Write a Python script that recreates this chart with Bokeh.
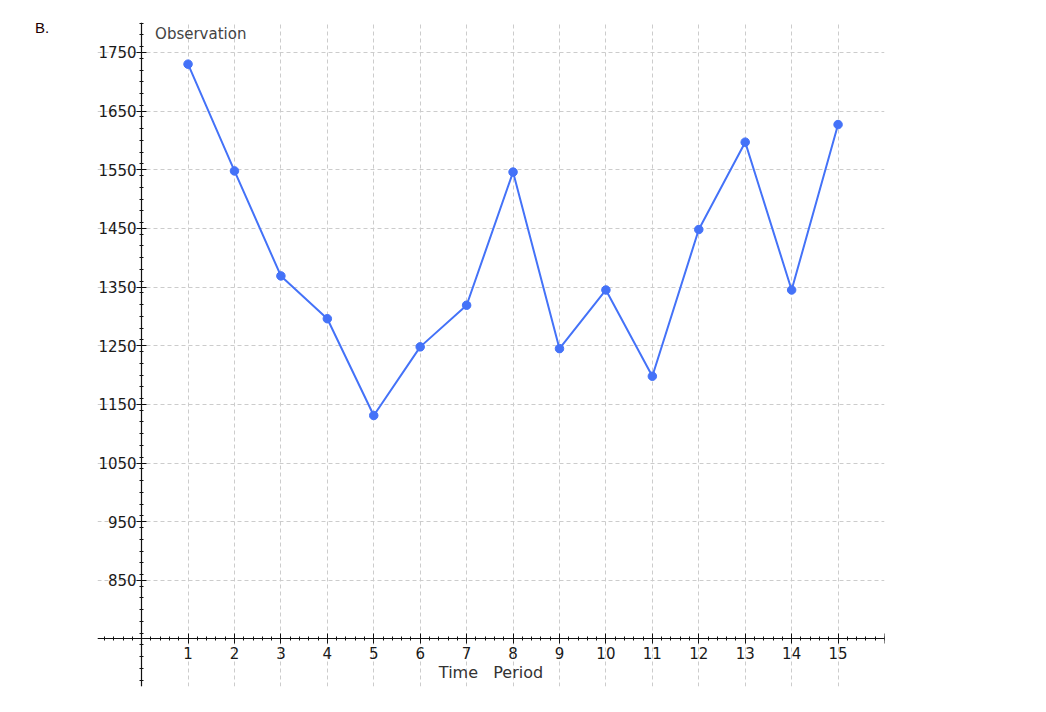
from bokeh.plotting import figure
from bokeh.models import Range1d, FixedTicker, Label, LinearAxis, Div
from bokeh.layouts import row
from bokeh.embed import file_html
from bokeh.resources import INLINE

# Data
periods = list(range(1, 16))
observations = [1730, 1548, 1369, 1296, 1131, 1248, 1319, 1546, 1245, 1345, 1198, 1448, 1597, 1345, 1627]

x_major = list(range(1, 17))
x_labels = {i: str(i) for i in range(1, 16)}
x_labels[16] = ""
x_minor = [round(-0.8 + 0.2 * i, 1) for i in range(0, 85)]
y_major = [850, 950, 1050, 1150, 1250, 1350, 1450, 1550, 1650, 1750]
y_grid = y_major
y_minor = list(range(680, 1801, 20))

TICK_FONT = "DejaVu Sans"
LINE_COLOR = "#4472F8"

p = figure(width=933, height=696, output_backend="svg", toolbar_location=None,
           x_range=Range1d(-0.95, 16.0), y_range=Range1d(669, 1801),
           x_axis_location=None, y_axis_location=None,
           min_border_left=0, min_border_right=146, min_border_top=22, min_border_bottom=10)
p.outline_line_color = None
p.background_fill_color = "white"
p.border_fill_color = "white"

xaxis = LinearAxis(ticker=FixedTicker(ticks=x_major, minor_ticks=x_minor),
                   major_label_overrides=x_labels, fixed_location=750,
                   axis_label="Time\u00a0\u00a0\u00a0Period")
yaxis = LinearAxis(ticker=FixedTicker(ticks=y_major, minor_ticks=y_minor),
                   fixed_location=0)
p.add_layout(xaxis, "below")
p.add_layout(yaxis, "left")

for ax in (xaxis, yaxis):
    ax.axis_line_color = "#111111"
    ax.axis_line_width = 1.2
    ax.major_tick_line_color = "#111111"
    ax.minor_tick_line_color = "#111111"
    ax.major_tick_in = 5
    ax.major_tick_out = 5
    ax.minor_tick_in = 2
    ax.minor_tick_out = 2
    ax.major_label_text_font = TICK_FONT
    ax.major_label_text_font_size = "15px"
    ax.major_label_text_color = "#1a1a1a"

xaxis.major_label_standoff = 3
yaxis.major_label_standoff = 0
xaxis.axis_label_text_font = TICK_FONT
xaxis.axis_label_text_font_size = "16px"
xaxis.axis_label_text_font_style = "normal"
xaxis.axis_label_text_color = "#333333"
xaxis.axis_label_standoff = 1

p.xgrid.ticker = FixedTicker(ticks=list(range(0, 17)))
p.ygrid.ticker = FixedTicker(ticks=[750] + y_grid)
for g in (p.xgrid, p.ygrid):
    g.grid_line_color = "#cccccc"
    g.grid_line_dash = "4 3"
    g.grid_line_width = 1

p.line(periods, observations, line_color=LINE_COLOR, line_width=2)
p.scatter(periods, observations, size=8.5, fill_color=LINE_COLOR, line_color=LINE_COLOR)

p.add_layout(Label(x=0.29, y=1781, text="Observation", text_font=TICK_FONT,
                   text_font_size="15px", text_color="#444444", text_baseline="middle"))

tag = Div(text='<div style="position:relative; left:35px; top:17px; '
               'font-family:\'Liberation Sans\'; font-size:15px; color:#200000;">B.</div>',
          width=97, height=40, margin=(0, 0, 0, 0))

layout = row(tag, p)
open("out.html", "w").write(file_html(layout, INLINE))
